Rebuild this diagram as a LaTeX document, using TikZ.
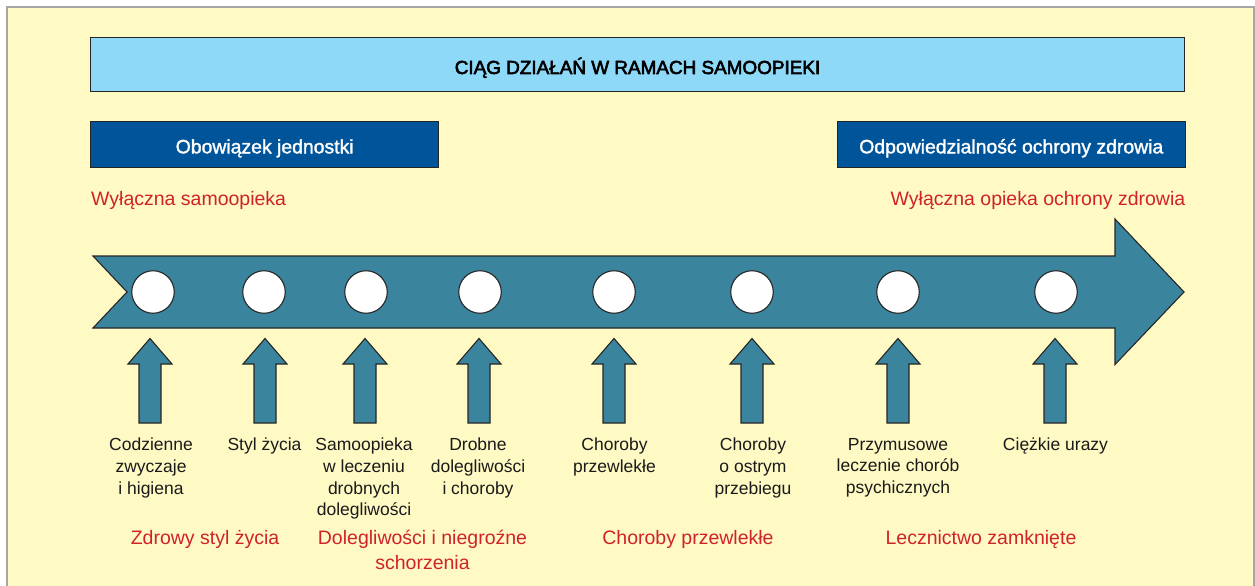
\documentclass[tikz,border=0pt]{standalone}
\usepackage{fontspec}
\setmainfont{Liberation Sans}
\newfontfamily\titlefont[FakeBold=3]{Liberation Sans}
\newfontfamily\boxfont[FakeBold=1.6]{Liberation Sans}
\definecolor{bgyellow}{HTML}{FFF9C4}
\definecolor{framegray}{HTML}{A6A6A6}
\definecolor{titleblue}{HTML}{8ED8F8}
\definecolor{darkblue}{HTML}{00549A}
\definecolor{teal}{HTML}{3B849D}
\definecolor{labelred}{HTML}{D0222B}
\definecolor{labelblack}{HTML}{1A1A1A}
\tikzset{
  titlebox/.style={draw=black!85, line width=1.1pt, fill=titleblue, inner sep=0pt,
    minimum width=1094.4pt, minimum height=54pt, text height=18.6pt, text depth=0pt,
    font=\titlefont\fontsize{18.9}{22}\selectfont, text=black},
  sidebox/.style={draw=black!85, line width=1.1pt, fill=darkblue, inner sep=0pt,
    minimum width=348pt, minimum height=45.6pt, text height=17.7pt, text depth=0pt,
    font=\boxfont\fontsize{19.4}{23}\selectfont, text=white},
  redlabel/.style={text=labelred, inner sep=0pt, align=center, font=\fontsize{19.5}{24.7}\selectfont},
  blacklabel/.style={text=labelblack, inner sep=0pt, align=center, font=\fontsize{17.5}{21.7}\selectfont},
  dot/.style={circle, draw=black!85, line width=1.1pt, fill=white, minimum size=42.5pt, inner sep=0pt},
  bandshape/.style={draw=black!85, line width=1.1pt, fill=teal},
  uparrow/.pic={
    \draw[bandshape] (-11,423) -- (-11,364) -- (-22,364) -- (0,338.5) -- (22,364) -- (11,364) -- (11,423) -- cycle;
    \coordinate (-tip) at (0,338.5);
  }
}
\begin{document}
\begin{tikzpicture}[x=1pt,y=-1pt]
\useasboundingbox (0,0) rectangle (1255,586);
% background frame
\fill[white] (0,0) rectangle (1255,586);
\draw[framegray, line width=1.5pt, fill=bgyellow] (7,600) -- (7,7) -- (1254,7) -- (1254,600);

% header boxes
\node[titlebox] (title) at (637.5,64.7) {CIĄG DZIAŁAŃ W RAMACH SAMOOPIEKI};
\node[sidebox] (duty) at (264.7,144.5) {Obowiązek jednostki};
\node[sidebox] (resp) at (1011.3,144.5) {Odpowiedzialność ochrony zdrowia};

\node[redlabel, anchor=base west] (selfcare) at (91,205.7) {Wyłączna samoopieka};
\node[redlabel, anchor=base east] (hcare) at (1185.5,205.7) {Wyłączna opieka ochrony zdrowia};

% big arrow
\draw[bandshape] (93,256) -- (1115,256) -- (1115,219) -- (1184,292) -- (1115,364.5)
  -- (1115,328) -- (93,328) -- (127,292) -- cycle;
\coordinate (bigtip) at (1184,292);

% circles
\foreach \x [count=\i] in {153,264,366,480,614,752,898,1056}
  \node[dot] (c\i) at (\x,292) {};

% up arrows
\foreach \x [count=\i] in {150,265,365,479,614,752,898,1055}
  \pic (a\i) at (\x,0) {uparrow};

% black labels
\node[blacklabel, anchor=north] (l1) at (151,438) {Codzienne\\zwyczaje\\i higiena};
\node[blacklabel, anchor=north] (l2) at (264.5,438) {Styl życia};
\node[blacklabel, anchor=north] (l3) at (364,438) {Samoopieka\\w leczeniu\\drobnych\\dolegliwości};
\node[blacklabel, anchor=north] (l4) at (478,438) {Drobne\\dolegliwości\\i choroby};
\node[blacklabel, anchor=north] (l5) at (614.5,438) {Choroby\\przewlekłe};
\node[blacklabel, anchor=north] (l6) at (753,438) {Choroby\\o ostrym\\przebiegu};
\node[blacklabel, anchor=north] (l7) at (898,438) {Przymusowe\\leczenie chorób\\psychicznych};
\node[blacklabel, anchor=north] (l8) at (1055.5,438) {Ciężkie urazy};

% red group labels
\node[redlabel, anchor=north] (g1) at (205,530) {Zdrowy styl życia};
\node[redlabel, anchor=north] (g2) at (422.5,530) {Dolegliwości i niegroźne\\schorzenia};
\node[redlabel, anchor=north] (g3) at (688,530) {Choroby przewlekłe};
\node[redlabel, anchor=north] (g4) at (981,530) {Lecznictwo zamknięte};
\end{tikzpicture}
\end{document}
